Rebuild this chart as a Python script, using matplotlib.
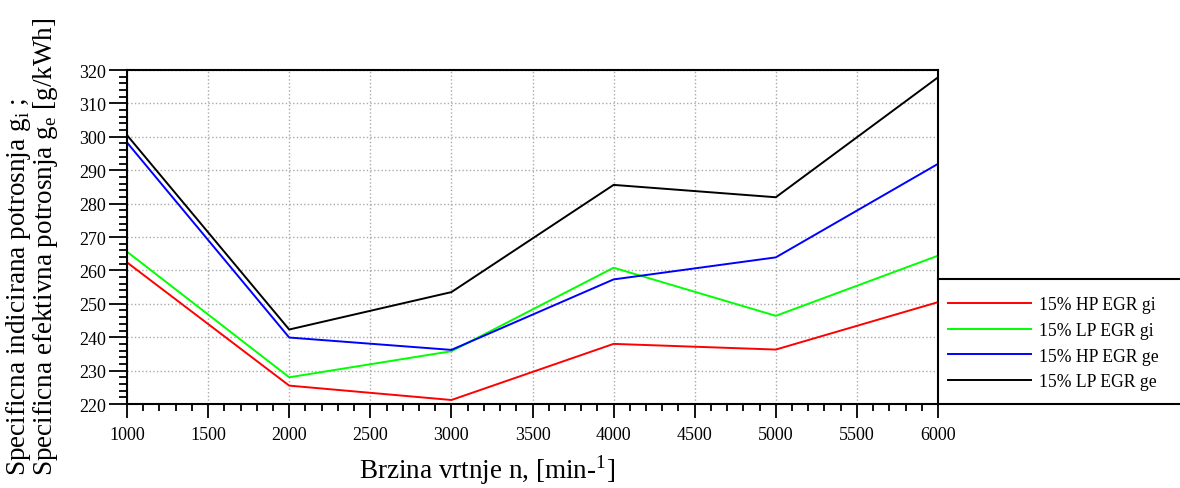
import matplotlib.pyplot as plt
import numpy as np
from matplotlib.lines import Line2D
from matplotlib.ticker import MultipleLocator

plt.rcParams['font.family'] = ['Liberation Serif', 'DejaVu Serif']
plt.rcParams['mathtext.fontset'] = 'custom'
plt.rcParams['mathtext.rm'] = 'Liberation Serif'

# brzina vrtnje [min-1]
n = [1000, 2000, 3000, 4000, 5000, 6000]

# specificna potrosnja [g/kWh]
hp_gi = [262.4, 225.5, 221.2, 238.0, 236.3, 250.5]
lp_gi = [265.6, 228.0, 235.8, 260.8, 246.4, 264.4]
hp_ge = [298.3, 239.9, 236.2, 257.3, 263.9, 291.9]
lp_ge = [300.5, 242.3, 253.5, 285.6, 281.9, 317.8]

labels = ['15% HP EGR gi', '15% LP EGR gi', '15% HP EGR ge', '15% LP EGR ge']
colors = ['#ff0000', '#00ff00', '#0000ff', '#000000']

W, H = 1180, 489
fig = plt.figure(figsize=(W / 100, H / 100), dpi=100)
ax = fig.add_axes([127 / W, 1 - 405 / H, (938 - 127) / W, (405 - 71) / H])

for y, c, lab in zip([hp_gi, lp_gi, hp_ge, lp_ge], colors, labels):
    ax.plot(n, y, color=c, lw=1.4, label=lab)

ax.set_xlim(1000, 6000)
ax.set_ylim(220, 320)
ax.xaxis.set_major_locator(MultipleLocator(500))
ax.xaxis.set_minor_locator(MultipleLocator(100))
ax.yaxis.set_major_locator(MultipleLocator(10))
ax.yaxis.set_minor_locator(MultipleLocator(2))
ax.tick_params(which='both', direction='out', width=1.3, labelsize=13)
ax.tick_params(axis='x', which='major', length=10, pad=6)
ax.tick_params(axis='x', which='minor', length=5)
ax.tick_params(axis='y', which='major', length=13, pad=2)
ax.tick_params(axis='y', which='minor', length=6)
ax.grid(True, which='major', color='#aaaaaa', ls=':', lw=1)
for s in ax.spines.values():
    s.set_linewidth(1.5)

# okvir legende desno
fig.add_artist(Line2D([938 / W, 1.0], [1 - 280 / H, 1 - 280 / H], color='black', lw=1.5))
fig.add_artist(Line2D([938 / W, 1.0], [1 - 405 / H, 1 - 405 / H], color='black', lw=1.5))
h, l = ax.get_legend_handles_labels()
fig.legend(h, l, loc='upper left', bbox_to_anchor=(948 / W, 1 - 297 / H),
           frameon=False, fontsize=12.7, handlelength=4.7, handletextpad=0.45,
           labelspacing=0.5, borderaxespad=0, borderpad=0)

fig.text(487 / W, 1 - 470 / H, r'Brzina vrtnje n, [min-$^\mathregular{1}$]',
         ha='center', va='center', fontsize=19.5)
fig.text(32 / W, 1 - 247 / H,
         'Specificna indicirana potrosnja g$_\\mathregular{i}$ ;\n'
         'Specificna efektivna potrosnja g$_\\mathregular{e}$ [g/kWh]',
         ha='center', va='center', rotation=90, multialignment='left', fontsize=19.5,
         linespacing=0.95)

fig.savefig('out.png', dpi=100)
